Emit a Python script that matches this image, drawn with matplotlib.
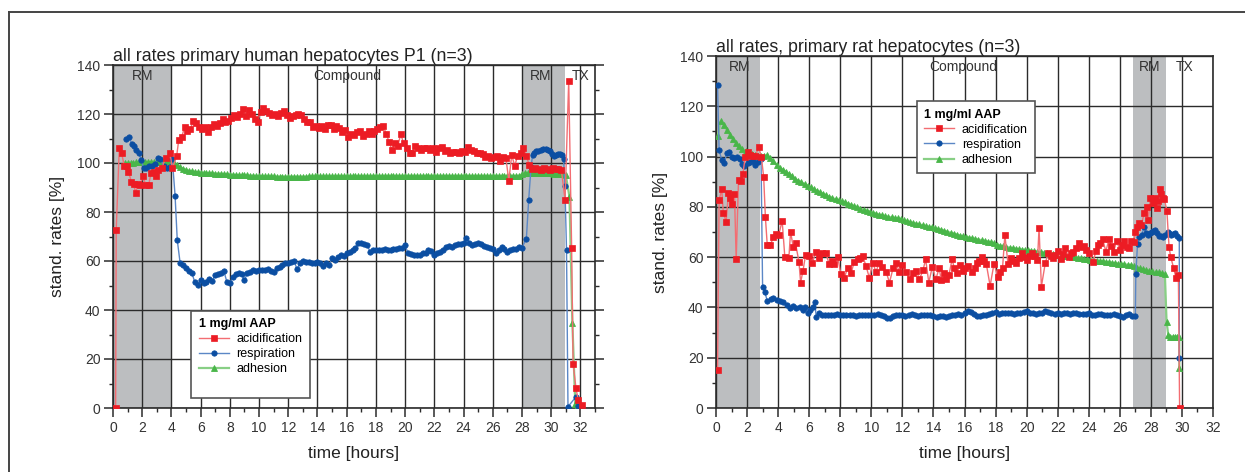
import numpy as np
import matplotlib.pyplot as plt
from matplotlib.lines import Line2D
from matplotlib.ticker import MultipleLocator

plt.rcParams['font.family'] = ['Liberation Sans', 'DejaVu Sans']

# sampling step of the regular parts of the recordings [hours]
DT = 0.2

# ---------------- primary human hepatocytes P1 (left) ----------------
# acidification
acid_L_head = [(0.18, 0), (0.22, 72.7), (0.43, 106), (0.59, 104), (0.77, 98.9), (0.95, 98.9),
               (1.06, 96.5), (1.26, 92.2), (1.41, 91.4), (1.55, 87.7), (1.69, 91.4), (1.87, 90.9),
               (2.05, 94.5), (2.25, 90.9), (2.44, 90.9), (2.6, 95.9), (2.78, 96.3), (2.95, 94.5),
               (3.1, 97.3), (3.33, 97.9), (3.6, 101.9), (3.9, 104.2), (4.06, 97.8), (4.36, 102.9)]
acid_L_start = 4.5
acid_L_vals = [109.4, 110.5, 114.6, 113.2, 114,
               117.1, 116.5, 114.6, 114, 114.5,
               112.8, 114.5, 115.8, 115, 116.5,
               117.9, 116.9, 117, 118.5, 119.6,
               118.6, 120, 121.9, 119, 121.6,
               120, 117.8, 116.6, 121, 122.6,
               121.2, 120.5, 119.6, 120, 119,
               120.5, 121.3, 119.5, 118.5, 119.2,
               119.5, 120, 119.6, 118, 116.9,
               116.9, 114.6, 115, 114.4, 115,
               113.8, 115.5, 115.5, 114, 115,
               114.1, 112.8, 113.5, 110.7, 112,
               111.5, 112.5, 113, 111, 112,
               113.2, 112, 113, 114, 114.5,
               115.1, 112, 108.7, 105.3, 108,
               107, 111.8, 108, 106, 104,
               104, 107, 106, 105.5, 106,
               106, 105.5, 106, 104.5, 106,
               106.7, 105, 105.5, 104, 104.6,
               104.5, 104, 105, 104.5, 106.7,
               105.5, 105, 104, 104, 103.5,
               102.6, 103, 102, 102.6, 103,
               101, 102.6, 102, 92.8, 103.3,
               98.8, 102.9, 104.2,
               106, 103, 99, 97.5, 98, 97.5, 97, 98, 97.5, 97, 98, 97.5, 97.5, 97]
acid_L_tail = [(30.95, 85), (31.2, 133.5), (31.4, 65.5), (31.5, 18), (31.7, 8), (31.85, 3.3), (32.1, 1.2)]

# respiration
resp_L_head = [(0.89, 109.8), (1.12, 110.5), (1.28, 107.8), (1.44, 107.1), (1.6, 105.4), (1.76, 104.2),
               (1.92, 101.4), (2.1, 98), (2.28, 98), (2.44, 98.9), (2.67, 98.9), (2.85, 99.5),
               (3.06, 102), (3.25, 101.6), (3.48, 98.9), (3.7, 98), (3.93, 98.2), (4.06, 101.6),
               (4.25, 86.7)]
resp_L_start = 4.4
resp_L_vals = [68.5, 59, 58.4, 57.3, 55.8,
               55.2, 51.3, 50.2, 52.2, 51.2,
               51.6, 52.5, 51.8, 54.3, 54.8,
               55.2, 55.8, 51.3, 50.9, 53.6,
               54.5, 55, 54.5, 52.2, 55,
               55.5, 56.3, 56, 56.5, 56.3,
               56.3, 56.8, 55.8, 55.6, 57,
               57.7, 58.3, 59, 59.2, 59.7,
               60, 56.6, 59, 60, 59.5,
               59.5, 59, 59, 59.5, 59,
               58, 59, 58.4, 61.1, 60.5,
               61.5, 62.4, 62, 63.1, 63.5,
               64.5, 65.2, 67.2, 67.5, 67,
               66.5, 63.8, 64.5, 64.5, 64.5,
               64.5, 65, 64.5, 64.5, 65,
               65, 65.2, 65.5, 66.5, 63.1,
               62.8, 62.5, 62.4, 62.5, 63.1,
               63.1, 64.5, 64, 62.4, 63.3,
               63.8, 64.5, 65.9, 66, 65.8,
               66.5, 66.9, 66.8, 67.5, 69.3,
               67.5, 66.5, 67, 67.2, 66.8,
               66.2, 65.9, 65.5, 65, 63.1,
               64.5, 65.6, 65, 63.8, 64.5,
               64.8, 65, 65.6, 65.5]
resp_L_tail = [(28.3, 69), (28.46, 85), (28.62, 98.2), (28.73, 103.4), (28.85, 104.2), (28.96, 104.8),
               (29.1, 105), (29.3, 105.4), (29.45, 105.6), (29.65, 105.8), (29.8, 105.3), (29.94, 104.8),
               (30.08, 103.8), (30.22, 102.7), (30.36, 103.2), (30.5, 103.7), (30.62, 103.5),
               (30.75, 103.4), (30.85, 101.5), (30.94, 90.7), (31.05, 64.5), (31.15, 0.5),
               (31.7, 4.6), (31.85, 1)]

# adhesion
adh_L_head = []
adh_L_start = 0.8
adh_L_vals = [100, 100, 100.2, 100.2, 100.3,
              100.3, 100.3, 100.4, 100.4, 100.4,
              100.5, 100.5, 100.6, 100.6, 100.7,
              100.8, 100.6, 99.8, 99, 98.3,
              97.7, 97.2, 96.8, 96.6, 96.4,
              96.2, 96.1, 96, 95.9, 95.8,
              95.8, 95.7, 95.6, 95.6, 95.5,
              95.4, 95.3, 95.2, 95.1, 95,
              95, 94.9, 94.9, 94.8, 94.8,
              94.7, 94.7, 94.6, 94.6, 94.5,
              94.5, 94.5, 94.4, 94.4, 94.4,
              94.4, 94.4, 94.4, 94.4, 94.4,
              94.4, 94.4, 94.4, 94.5, 94.5,
              94.5, 94.5, 94.5, 94.5, 94.5,
              94.5, 94.5, 94.6, 94.6, 94.6,
              94.6, 94.6, 94.6, 94.6, 94.6,
              94.6, 94.6, 94.6, 94.6, 94.6,
              94.7, 94.7, 94.7, 94.7, 94.7,
              94.7, 94.7, 94.7, 94.7, 94.7,
              94.7, 94.7, 94.7, 94.7, 94.7,
              94.7, 94.7, 94.7, 94.7, 94.7,
              94.7, 94.7, 94.7, 94.7, 94.7,
              94.7, 94.7, 94.7, 94.7, 94.7,
              94.7, 94.7, 94.7, 94.7, 94.7,
              94.7, 94.7, 94.7, 94.7, 94.7,
              94.7, 94.7, 94.7, 94.7, 94.7,
              94.7, 94.7, 94.7, 94.7, 94.7,
              94.8, 95.4, 95.9, 96.0, 96.1,
              96.0, 96.0, 95.9, 95.9, 95.8,
              95.8, 95.8, 95.7, 95.7, 95.6,
              95.5, 95.0]
adh_L_tail = [(31.25, 86.3), (31.45, 34.8), (31.65, 1.6), (31.75, 0.5)]

# ---------------- primary rat hepatocytes (right) ----------------
acid_R_head = [(0.1, 15.1), (0.2, 82.7), (0.37, 87), (0.47, 77.7), (0.65, 74.1), (0.8, 85.4), (0.9, 83.4),
               (1.06, 81.1), (1.19, 85), (1.3, 59.1), (1.45, 90.7), (1.6, 90.3), (1.73, 93.1),
               (1.88, 99.7), (2.05, 102), (2.2, 100.6), (2.35, 100.2), (2.53, 100.2), (2.75, 103.7),
               (2.92, 100), (3.07, 91.8), (3.18, 75.9), (3.3, 64.8), (3.5, 64.8), (3.7, 68.1),
               (3.87, 69.2), (4.04, 68.8), (4.26, 74.5), (4.43, 60.2), (4.69, 59.5), (4.8, 70.1),
               (4.97, 64.2), (5.12, 65.5), (5.34, 58.2), (5.45, 49.9), (5.6, 54.6), (5.77, 60.9),
               (5.98, 60.5), (6.2, 57.6), (6.42, 62.2), (6.63, 59.5), (6.85, 61.8), (7.07, 61.8),
               (7.28, 57.3), (7.45, 58.5), (7.6, 57.1), (7.83, 60.2), (8.04, 53.2), (8.25, 51.6),
               (8.47, 55.6), (8.7, 53.6), (8.9, 58.2), (9.12, 59.1), (9.3, 59.8), (9.44, 60.5),
               (9.66, 56.5), (9.87, 51.8), (10.1, 57.6), (10.3, 54.2), (10.5, 57.6), (10.7, 56.2),
               (10.95, 54.2), (11.17, 49.9), (11.4, 55.6), (11.6, 57.6), (11.8, 54.2), (12.0, 56.9),
               (12.25, 54.2), (12.46, 51.2), (12.68, 53.6), (12.9, 54.5), (13.1, 51.2), (13.33, 54.9),
               (13.5, 59.1), (13.7, 49.9), (13.93, 56.2), (14.15, 51.2), (14.37, 55.6), (14.5, 51),
               (14.65, 53.5), (14.8, 51.2), (15.0, 53), (15.2, 59.1), (15.35, 55.5), (15.5, 53.6),
               (15.7, 56.9), (15.9, 54.5), (16.05, 55.8), (16.25, 56.5), (16.5, 54.2), (16.65, 55.5),
               (16.8, 57.6), (16.95, 58.5), (17.1, 60.2), (17.25, 58.4), (17.4, 57.4), (17.65, 48.6),
               (17.9, 57.4), (18.15, 52), (18.3, 54.2), (18.45, 55.8), (18.6, 68.8), (18.8, 57.4),
               (19.0, 59.5), (19.15, 58.3), (19.3, 57.6), (19.5, 59.5), (19.7, 61.5), (19.85, 60.2),
               (20.0, 58.9), (20.2, 60.5), (20.35, 61.5), (20.55, 60.3), (20.7, 58.9), (20.8, 71.5),
               (20.95, 48.3), (21.2, 57.6), (21.4, 61.8), (21.55, 60.5), (21.7, 59.5), (21.85, 61),
               (22.0, 62.6), (22.2, 59.1), (22.35, 61.2), (22.5, 63.5), (22.7, 60), (22.85, 61.5),
               (23.0, 62.2), (23.2, 63.8), (23.4, 65.8), (23.55, 64.2), (23.7, 64.5), (23.85, 63),
               (24.0, 61.8), (24.3, 58.2), (24.45, 62.5), (24.6, 64.8), (24.75, 65.5), (24.9, 67.2),
               (25.1, 62.2), (25.3, 67.2), (25.45, 64.5), (25.6, 62.2), (25.8, 66.5), (26.0, 62.8),
               (26.15, 64.8), (26.3, 66.5), (26.45, 64), (26.6, 63.5), (26.75, 66.5), (26.9, 66.2),
               (27.0, 70.1), (27.12, 72), (27.25, 73.7), (27.38, 72.8), (27.57, 77.4), (27.74, 80.1),
               (27.83, 74.8), (27.96, 83.4), (28.12, 81.4), (28.25, 83.5), (28.37, 79.4), (28.47, 82.5),
               (28.56, 87), (28.67, 85.1), (28.77, 83.5), (28.87, 83), (29.03, 78.5), (29.17, 64.2),
               (29.27, 60.2), (29.47, 55.6), (29.62, 51.6), (29.77, 52.9), (29.85, 0)]
acid_R_start = None
acid_R_vals = []
acid_R_tail = []

resp_R_head = [(0.1, 128.5), (0.2, 102.6), (0.37, 98.6), (0.54, 97.6), (0.7, 101.6), (0.84, 102),
               (1.0, 100), (1.19, 99.3), (1.38, 99.7), (1.52, 99), (1.66, 96.9), (1.83, 96.3),
               (2.03, 97.6), (2.2, 98), (2.38, 98.2), (2.53, 96.7), (2.68, 98), (2.9, 99),
               (3.0, 48.3), (3.15, 46), (3.3, 42.6), (3.52, 43.4), (3.68, 43.6), (3.9, 43),
               (4.1, 42.6), (4.33, 42.3), (4.54, 41), (4.78, 39.9), (4.98, 40.6), (5.18, 39.7),
               (5.4, 40.3), (5.58, 39), (5.75, 40), (5.92, 37.9), (6.07, 39), (6.25, 40.3),
               (6.35, 42.3), (6.46, 36.1), (6.6, 37.7)]
resp_R_start = 6.8
resp_R_vals = [37, 36.8, 37.1, 36.9, 37,
               37.2, 37, 36.8, 37, 36.9,
               37, 36.6, 36.8, 37, 37.1,
               36.9, 37, 36.8, 37.2, 37,
               36.5, 35.6, 35.8, 36.6, 37,
               36.8, 37.1, 36.6, 37, 37.3,
               36.8, 36.5, 37, 36.9, 37.1,
               37, 36.6, 36.3, 36.5, 36.4,
               36.3, 36.5, 36.8, 37, 37.2,
               37, 37.6, 38.5, 38.1, 37.3,
               36.5, 36.6, 37, 37.1, 37.4,
               37.8, 38.3, 37.5, 37.6, 37.8,
               37.6, 37.8, 37.5, 37.7, 37.6,
               38, 38.5, 37.9, 37.6, 37.5,
               37.6, 37.9, 38.5, 38.3, 37.8,
               37.4, 37.6, 37.5, 37.9, 37.6,
               37.4, 37.6, 37.8, 37.5, 37.3,
               37.4, 37.6, 37.1, 37, 37.3,
               37.2, 37, 36.9, 37.1, 37.4,
               37.1, 36.6, 36.3, 36.8, 37.3,
               36.6, 36.5]
resp_R_tail = [(27.03, 53.2), (27.14, 65.2), (27.25, 68.1), (27.4, 68.8), (27.57, 72.1), (27.7, 69.5),
               (27.83, 68.8), (27.95, 69.8), (28.05, 70.1), (28.15, 70.5), (28.26, 70.8), (28.4, 69.8),
               (28.54, 68.4), (28.65, 68.5), (28.76, 68.1), (28.9, 68.8), (29.08, 70.1), (29.18, 69.5),
               (29.29, 68.8), (29.43, 69.2), (29.57, 69.5), (29.7, 68.5), (29.83, 67.5), (29.83, 19.8)]

adh_R_head = []
adh_R_start = 0.1
adh_R_vals = [108, 114, 112.5, 110.5, 108.6, 107, 105.5, 104.3, 103, 102.2,
              101.4, 100.9, 100.5, 100.2, 100.1, 100.2, 100.6, 99.3, 98.2, 96.8,
              95.5, 94.8, 94, 93.1, 92.3, 91.1, 90.4, 89.8, 89.1, 88.4,
              87.7, 87, 86.4, 85.8, 85.2, 84.6, 84.0, 83.5, 83.0, 82.6,
              82.2, 81.8, 81.3, 80.8, 80.3, 79.8, 79.3, 78.9, 78.5, 78.1,
              77.7, 77.3, 76.9, 76.6, 76.3, 76.0, 75.8, 75.6, 75.4, 75.1,
              74.7, 74.3, 73.9, 73.6, 73.3, 73.0, 72.7, 72.4, 72.1, 71.8,
              71.5, 71.2, 70.9, 70.5, 70.1, 69.7, 69.4, 69.0, 68.6, 68.3,
              68.0, 67.8, 67.5, 67.2, 67.0, 66.7, 66.5, 66.2, 65.9, 65.5,
              65.0, 64.6, 64.3, 64.0, 63.8, 63.6, 63.4, 63.2, 63.0, 62.9,
              62.8, 62.6, 62.4, 62.2, 62.0, 61.8, 61.6, 61.4, 61.2, 61.0,
              60.8, 60.6, 60.5, 60.3, 60.1, 59.9, 59.7, 59.5, 59.3, 59.1,
              58.9, 58.8, 58.6, 58.5, 58.3, 58.1, 57.9, 57.8, 57.6, 57.4,
              57.3, 57.1, 57.0, 56.9, 56.5, 55.8, 55.5, 55.2, 54.9, 54.6,
              54.3, 54.1, 53.9, 53.6, 53.4]
adh_R_tail = [(29.01, 34.3), (29.12, 29), (29.25, 28.4), (29.4, 28.4), (29.55, 28.4), (29.7, 28.4),
              (29.83, 28.4), (29.83, 15.8)]

# shaded medium phases and phase labels
spans_L = [(0, 4.0), (28.0, 30.95)]
phase_L = [("RM", 2.0), ("Compound", 16.07), ("RM", 29.3), ("TX", 32.05)]
spans_R = [(0, 2.84), (26.86, 28.97)]
phase_R = [("RM", 1.55), ("Compound", 15.9), ("RM", 27.9), ("TX", 30.2)]

series_names = ["acidification", "respiration", "adhesion"]

RED, RED_LN = '#ec1c24', '#f36d72'
BLUE, BLUE_LN = '#0b4ea2', '#5b87c6'
GREEN, GREEN_LN = '#49b649', '#88cf85'
GRAY = '#bcbec0'
DARK = '#2b2b2b'


def build(head, start, vals, tail):
    t = [p[0] for p in head]
    v = [p[1] for p in head]
    if vals:
        t += list(start + DT * np.arange(len(vals)))
        v += list(vals)
    t += [p[0] for p in tail]
    v += [p[1] for p in tail]
    return np.array(t), np.array(v)


def panel(ax, acid, resp, adh, spans, phases, xmax, title, leg_xy, right_ticks, extra_row):
    for a, b in spans:
        ax.axvspan(a, b, color=GRAY, lw=0, zorder=0.2)
    ta, va = build(*acid)
    tr, vr = build(*resp)
    tg, vg = build(*adh)
    hg, = ax.plot(tg, vg, '-^', color=GREEN_LN, lw=1.6, ms=4.4,
                  mfc=GREEN, mec=GREEN, mew=0.6, zorder=3)
    hr, = ax.plot(tr, vr, '-o', color=BLUE_LN, lw=1.0, ms=3.9,
                  mfc=BLUE, mec=BLUE, mew=0.5, zorder=4)
    ha, = ax.plot(ta, va, '-s', color=RED_LN, lw=1.0, ms=3.7,
                  mfc=RED, mec=RED, mew=0.5, zorder=5)
    for txt, x in phases:
        ax.text(x, 135.7, txt, ha='center', va='center', fontsize=10, color='#333333', zorder=6)

    ax.set_xlim(0, xmax)
    ax.set_ylim(0, 140)
    ax.xaxis.set_major_locator(MultipleLocator(2))
    ax.xaxis.set_minor_locator(MultipleLocator(1))
    ax.yaxis.set_major_locator(MultipleLocator(20))
    ax.yaxis.set_minor_locator(MultipleLocator(10))
    ax.set_axisbelow(True)
    ax.grid(True, which='major', color=DARK, lw=1.0)
    ax.tick_params(which='major', direction='out', length=6.5, width=1.1, color=DARK,
                   labelsize=10, labelcolor='#333333', pad=2.5, right=right_ticks)
    ax.tick_params(which='minor', direction='out', length=3, width=1.0, color=DARK,
                   right=right_ticks)
    for s in ax.spines.values():
        s.set_color(DARK)
        s.set_linewidth(1.2)
    ax.set_xlabel("time [hours]", fontsize=12.5, color='#222222', labelpad=8)
    ax.set_ylabel("stand. rates [%]", fontsize=12.5, color='#222222', labelpad=9)
    ax.set_title(title, loc='left', fontsize=12.8, color='#222222', pad=3)

    handles = [ha, hr, hg]
    labels = list(series_names)
    if extra_row:
        # the left legend box has an empty row below the entries
        handles.append(Line2D([], [], lw=0, alpha=0))
        labels.append(" ")
    leg = ax.legend(handles=handles, labels=labels, title="1 mg/ml AAP", loc='upper left',
                    bbox_to_anchor=leg_xy, borderaxespad=0, fontsize=9,
                    title_fontproperties={'weight': 'bold', 'size': 9},
                    alignment='left', fancybox=False, framealpha=1, edgecolor='#555555',
                    numpoints=1, handlelength=2.4, handletextpad=0.6, labelspacing=0.25,
                    borderpad=0.6)
    leg.get_frame().set_linewidth(1.2)
    leg.set_zorder(10)


fig = plt.figure(figsize=(12.45, 4.72), dpi=100)
axL = fig.add_axes([113 / 1245, 64 / 472, 482 / 1245, 343 / 472])
axR = fig.add_axes([716 / 1245, 64 / 472, 497 / 1245, 352 / 472])

panel(axL,
      (acid_L_head, acid_L_start, acid_L_vals, acid_L_tail),
      (resp_L_head, resp_L_start, resp_L_vals, resp_L_tail),
      (adh_L_head, adh_L_start, adh_L_vals, adh_L_tail),
      spans_L, phase_L, 33, "all rates primary human hepatocytes P1 (n=3)",
      (0.162, 0.284), True, True)
panel(axR,
      (acid_R_head, acid_R_start, acid_R_vals, acid_R_tail),
      (resp_R_head, resp_R_start, resp_R_vals, resp_R_tail),
      (adh_R_head, adh_R_start, adh_R_vals, adh_R_tail),
      spans_R, phase_R, 32, "all rates, primary rat hepatocytes (n=3)",
      (0.404, 0.872), False, False)

# outer frame of the figure panel (left and top edges only)
fig.add_artist(Line2D([9 / 1245, 9 / 1245], [0, 1 - 12 / 472], transform=fig.transFigure,
                      color='#444444', lw=1.4))
fig.add_artist(Line2D([9 / 1245, 1], [1 - 12 / 472, 1 - 12 / 472], transform=fig.transFigure,
                      color='#444444', lw=1.4))

fig.savefig("out.png", dpi=100)
